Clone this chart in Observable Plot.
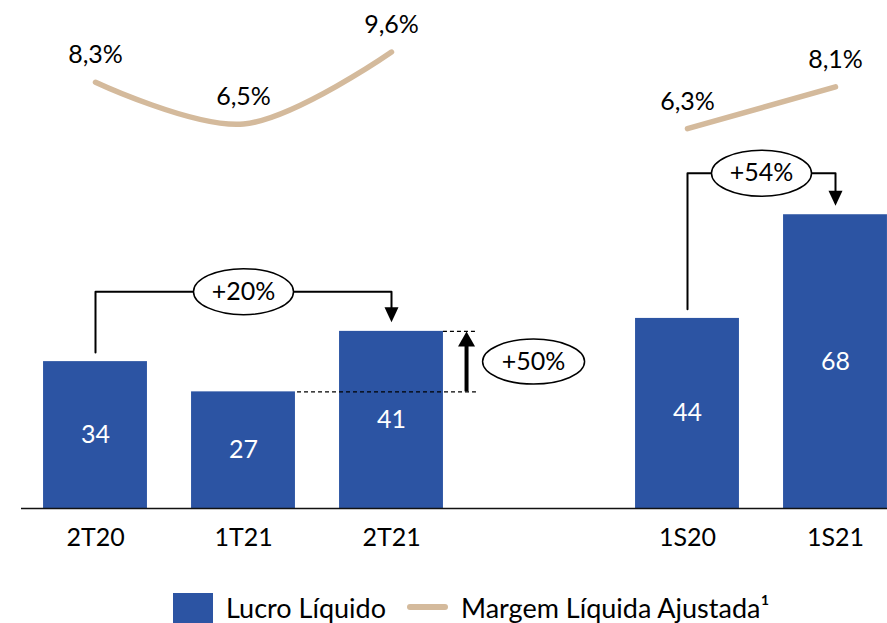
<!DOCTYPE html>
<html>
<head>
<meta charset="utf-8">
<script src="https://cdn.jsdelivr.net/npm/d3@7"></script>
<script src="https://cdn.jsdelivr.net/npm/@observablehq/plot@0.6"></script>
<style>
  html, body { margin: 0; padding: 0; background: #fff; }
  #wrap { position: relative; width: 887px; height: 623px; overflow: hidden; font-family: Lato, "Open Sans", sans-serif; }
  .leg { position: absolute; font-size: 27px; line-height: 1.2; color: #000; white-space: nowrap; }
</style>
</head>
<body>
<div id="wrap"></div>
<script>
// ---- data ----
const categories = ["2T20", "1T21", "2T21", "1S20", "1S21"];
const periodType = ["T", "T", "T", "S", "S"];           // quarter vs semester group
const lucro = [34, 27, 41, 44, 68];                       // Lucro Líquido
const margem = [8.3, 6.5, 9.6, 6.3, 8.1];                 // Margem Líquida Ajustada (%)
const marginLabels = ["8,3%", "6,5%", "9,6%", "6,3%", "8,1%"];
const growthLabels = ["+20%", "+50%", "+54%"];
const legendLabels = ["Lucro Líquido", "Margem Líquida Ajustada¹"];

const BLUE = "#2C54A3";
const TAN = "#D4BA9C";

// slot positions: a gap between quarters and semesters
const slots = categories.map((c, i) => i + (periodType[i] === "S" ? 1 : 0));
const rows = categories.map((c, i) => ({
  cat: c, slot: slots[i], type: periodType[i], lucro: lucro[i], margem: margem[i], mLabel: marginLabels[i]
}));

// secondary axis for the margin line, mapped into the bar value units
const m2y = d3.scaleLinear().domain([0, 10]).range([54.1, 107.8]);

const HALF = 0.351;   // half bar width in slot units
const GAP = 2.1;      // gap above bar tops for brackets

function bracket(i, j, level) {
  return [
    {x: slots[i], y: lucro[i] + GAP},
    {x: slots[i], y: level},
    {x: slots[j], y: level},
    {x: slots[j], y: lucro[j] + GAP + 2}
  ];
}
const brA = {i: 0, j: 2, level: 50.2, label: growthLabels[0]};
const brC = {i: 3, j: 4, level: 77.6, label: growthLabels[2]};
const brackets = [brA, brC];
const bracketPts = brackets.flatMap((b, k) => bracket(b.i, b.j, b.level).map(p => ({...p, k})));
const downHeads = brackets.map(b => ({x: slots[b.j], y: lucro[b.j] + GAP}));
const ellipses = [
  ...brackets.map(b => ({x: (slots[b.i] + slots[b.j]) / 2, y: b.level, label: b.label})),
  {x: 2.96, y: (lucro[1] + lucro[2]) / 2, label: growthLabels[1]}
];
const spikeX = 2.507;
const dashed = [
  {y: lucro[2], x1: slots[2] + HALF, x2: 2.574},
  {y: lucro[1], x1: slots[1] + HALF + 0.014, x2: 2.574}
];

function ellipseSymbol(rx, ry) {
  const k = 0.5523;
  return {
    draw(ctx) {
      ctx.moveTo(rx, 0);
      ctx.bezierCurveTo(rx, k * ry, k * rx, ry, 0, ry);
      ctx.bezierCurveTo(-k * rx, ry, -rx, k * ry, -rx, 0);
      ctx.bezierCurveTo(-rx, -k * ry, -k * rx, -ry, 0, -ry);
      ctx.bezierCurveTo(k * rx, -ry, rx, -k * ry, rx, 0);
      ctx.closePath();
    }
  };
}
const downTri = {draw(ctx) { ctx.moveTo(0, 0); ctx.lineTo(-7, -15); ctx.lineTo(7, -15); ctx.closePath(); }};
const upTri = {draw(ctx) { ctx.moveTo(0, 0); ctx.lineTo(-8.5, 15); ctx.lineTo(8.5, 15); ctx.closePath(); }};

const chart = Plot.plot({
  width: 887,
  height: 575,
  marginTop: 76,
  marginBottom: 67,
  marginLeft: 21,
  marginRight: 0,
  style: {fontFamily: 'Lato, "Open Sans", sans-serif', fontSize: "25px", color: "#000", background: "white", overflow: "visible"},
  x: {domain: [-0.5, 5.5], range: [21, 909]},
  y: {domain: [0, 100], axis: null},
  marks: [
    Plot.rectY(rows, {x1: d => d.slot - HALF, x2: d => d.slot + HALF, y1: 0, y2: "lucro", fill: BLUE}),
    Plot.text(rows, {x: "slot", y: d => d.lucro / 2, text: d => String(d.lucro), fill: "white", fontSize: 25}),
    Plot.ruleY([0], {stroke: "#111", strokeWidth: 1.5}),
    Plot.line(rows, {x: "slot", y: d => m2y(d.margem), z: "type", curve: "catmull-rom",
      stroke: TAN, strokeWidth: 5.5, strokeLinecap: "round"}),
    Plot.text(rows, {x: "slot", y: d => m2y(d.margem), text: "mLabel", dy: -27, fontSize: 25, fill: "#000"}),
    Plot.ruleY(dashed, {y: "y", x1: "x1", x2: "x2", stroke: "#000", strokeWidth: 1.3, strokeDasharray: "4,3"}),
    Plot.line(bracketPts, {x: "x", y: "y", z: "k", stroke: "#000", strokeWidth: 2, curve: "linear"}),
    Plot.dot(downHeads, {x: "x", y: "y", symbol: downTri, r: 1, fill: "#000", stroke: "none"}),
    Plot.ruleX([spikeX], {x: d => d, y1: lucro[1], y2: lucro[2] - 2, stroke: "#000", strokeWidth: 4}),
    Plot.dot([{x: spikeX, y: lucro[2]}], {x: "x", y: "y", symbol: upTri, r: 1, fill: "#000", stroke: "none"}),
    Plot.dot(ellipses.slice(0, 2), {x: "x", y: "y", symbol: ellipseSymbol(50, 23), r: 1, fill: "white", stroke: "#000", strokeWidth: 1.5}),
    Plot.dot(ellipses.slice(2), {x: "x", y: "y", symbol: ellipseSymbol(51, 22.5), r: 1, fill: "white", stroke: "#000", strokeWidth: 1.5}),
    Plot.text(ellipses, {x: "x", y: "y", text: "label", fontSize: 25, fill: "#000"}),
    Plot.axisX(slots, {tickFormat: d => categories[slots.indexOf(d)], tickSize: 0, tickPadding: 20, fontSize: 25, color: "#000", label: null})
  ]
});

const wrap = document.getElementById("wrap");
wrap.appendChild(chart);

// legend below the chart
const legend = [
  `<div style="position:absolute;left:173px;top:593px;width:40px;height:40px;background:${BLUE}"></div>`,
  `<div class="leg" style="left:226px;top:592px">${legendLabels[0]}</div>`,
  `<div style="position:absolute;left:407px;top:604px;width:41px;height:6px;border-radius:3px;background:${TAN}"></div>`,
  `<div class="leg" style="left:461px;top:592px">${legendLabels[1]}</div>`
].join("");
const lg = document.createElement("div");
lg.innerHTML = legend;
while (lg.firstChild) wrap.appendChild(lg.firstChild);
</script>
</body>
</html>
